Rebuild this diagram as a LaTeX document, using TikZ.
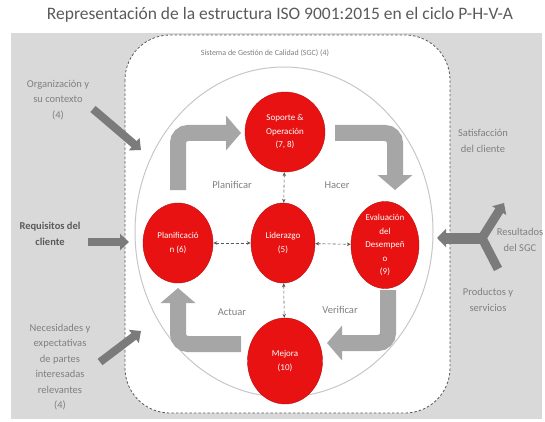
\documentclass[tikz,border=0pt]{standalone}
\usepackage{fontspec}
\setmainfont{Carlito}
\usepackage{tikz}
\usetikzlibrary{arrows.meta, positioning, shapes.geometric}
\definecolor{colRed}{RGB}{232,18,18}
\definecolor{colBack}{RGB}{217,217,217}
\definecolor{colArrow}{RGB}{166,166,166}
\definecolor{colText}{RGB}{128,128,128}
\definecolor{colDark}{RGB}{90,90,90}

\begin{document}
\begin{tikzpicture}[
  x=1pt, y=-1pt,
  proc/.style={ellipse, fill=colRed, draw=colRed!80!black, line width=0.4pt,
               text=white, font=\fontsize{9}{13.5}\selectfont, align=center,
               inner sep=0pt, minimum width=70pt, minimum height=80pt},
  side/.style={text=colText, font=\fontsize{10.5}{15.5}\selectfont, align=center},
  phase/.style={text=colText, font=\fontsize{10.5}{12}\selectfont},
  cycle/.style={draw=colArrow, line width=16pt, rounded corners=10pt,
                -{Triangle[length=15pt, width=34pt]}},
  link/.style={{Stealth[length=4pt, width=3.5pt]}-{Stealth[length=4pt, width=3.5pt]},
               draw=colDark, densely dashed, line width=0.6pt},
  inarr/.style={draw=colDark!80, line width=8pt,
                -{Triangle[length=9pt, width=16pt]}},
]
\useasboundingbox (0,0) rectangle (545,422);

% background and SGC frame
\fill[colBack] (11,33) rectangle (542,419);
\draw[colDark, dash pattern=on 2.5pt off 2pt, line width=0.8pt, fill=white,
      rounded corners=45pt] (125,35) rectangle (450,413);
\draw[black!22, line width=1pt] (284,232) ellipse [x radius=149, y radius=165];

\node[text=colDark, font=\fontsize{17.5}{20}\selectfont] (title) at (280,15)
  {Representación de la estructura ISO 9001:2015 en el ciclo P-H-V-A};
\node[text=colText, font=\fontsize{8}{9}\selectfont] (sgc) at (265,53)
  {Sistema de Gestión de Calidad (SGC) (4)};

% PHVA arrows
\coordinate (pa) at (178,190);  \coordinate (pb) at (241,133);
\coordinate (ha) at (335,133);  \coordinate (hb) at (395,190);
\coordinate (va) at (388,290);  \coordinate (vb) at (327,343);
\coordinate (aa) at (241,344);  \coordinate (ab) at (178,288);
\draw[cycle] (pa) |- (pb);
\draw[cycle] (ha) -| (hb);
\draw[cycle] (va) |- (vb);
\draw[cycle] (aa) -| (ab);

\node[phase] (plan) at (232,185) {Planificar};
\node[phase] (hacer) at (337,185) {Hacer};
\node[phase] (actuar) at (232,312) {Actuar};
\node[phase] (verif) at (340,310) {Verificar};

% processes
\node[proc, minimum width=80pt] (sop) at (285,132) {Soporte \&\\Operación\\(7, 8)};
\node[proc, minimum width=64pt] (lid) at (283,243) {Liderazgo\\(5)};
\node[proc] (plani) at (178,243) {Planificació\\n (6)};
\node[proc, minimum width=68pt] (eval) at (385,245) {Evaluación\\del\\Desempeñ\\o\\(9)};
\node[proc, minimum width=75pt, minimum height=86pt] (mej) at (285,361) {Mejora\\(10)};

\draw[link] (sop) -- (lid);
\draw[link] (plani) -- (lid);
\draw[link] (lid) -- (eval);
\draw[link] (lid) -- (mej);

% inputs
\node[side] (org) at (58,100) {Organización y\\su contexto\\(4)};
\node[side, text=colDark, font=\bfseries\fontsize{10.5}{15.5}\selectfont] (req) at (50,234)
  {Requisitos del\\cliente};
\node[side] (nec) at (60,367) {Necesidades y\\expectativas\\de partes\\interesadas\\relevantes\\(4)};
\coordinate (orgs) at (93,109);   \coordinate (orge) at (141,150);
\coordinate (reqs) at (88,242);   \coordinate (reqe) at (129,242);
\coordinate (necs) at (100,362);  \coordinate (nece) at (141,331);
\draw[inarr] (orgs) -- (orge);
\draw[inarr] (reqs) -- (reqe);
\draw[inarr] (necs) -- (nece);

% outputs
\node[side] (sat) at (483,141) {Satisfacción\\del cliente};
\node[side] (res) at (520,240) {Resultados\\del SGC};
\node[side] (prod) at (488,300) {Productos y\\servicios};
\coordinate (fork) at (482,238);
\coordinate (outl) at (437,238);
\coordinate (outu) at (504,203);
\coordinate (outd) at (498,269);
\draw[draw=colDark!80, line width=9pt] (fork) -- (outd);
\draw[inarr, line width=9pt] (fork) -- (outu);
\draw[inarr, line width=11pt, -{Triangle[length=9pt, width=18pt]}] (fork) -- (outl);

\end{tikzpicture}
\end{document}
